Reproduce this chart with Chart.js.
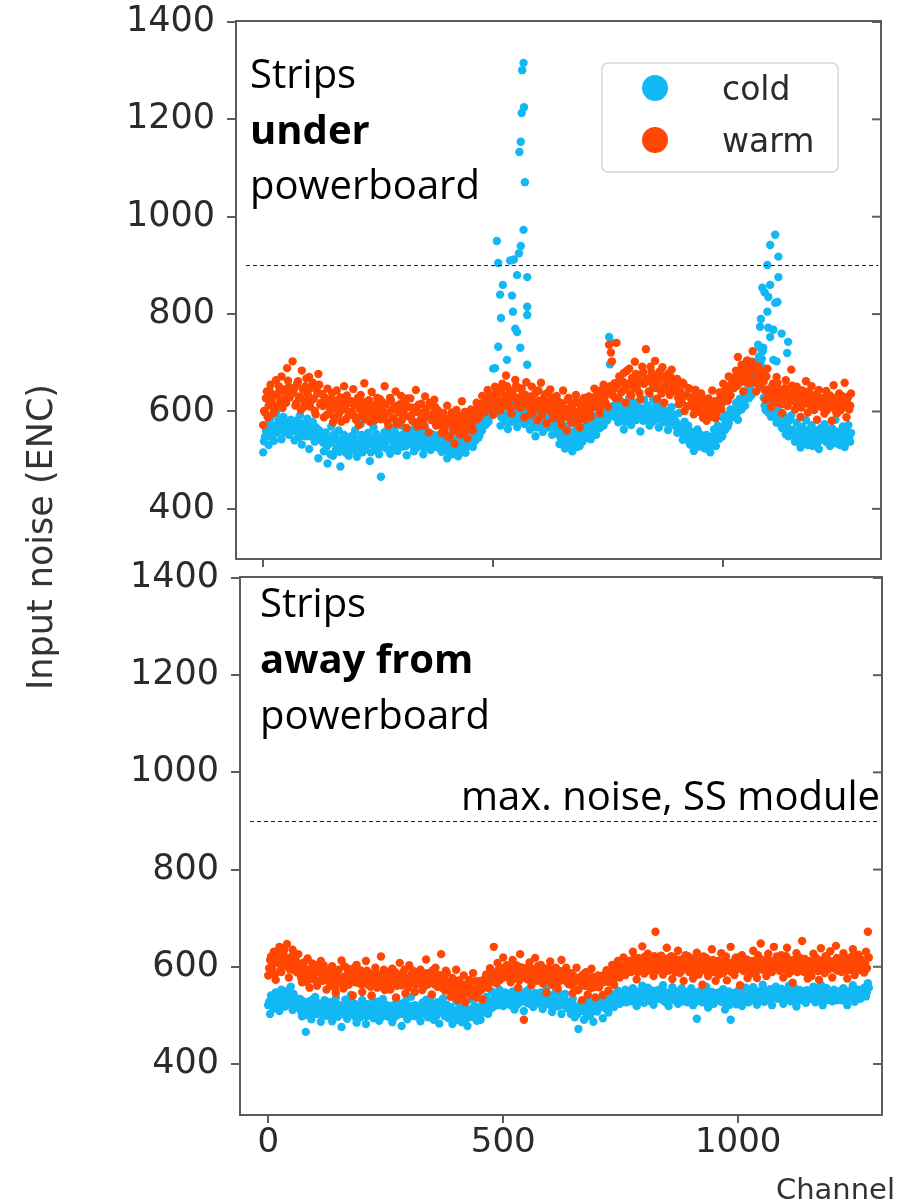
<!DOCTYPE html>
<html>
<head>
<meta charset="utf-8">
<script src="https://cdn.jsdelivr.net/npm/chart.js@4.4.1/dist/chart.umd.min.js"></script>
<style>
  body { margin: 0; background: #fff; }
  #wrap { position: relative; width: 902px; height: 1204px; }
  canvas { position: absolute; left: 0; }
  #top { top: 0; }
  #bottom { top: 560px; }
  #ylabel {
    position: absolute; left: 40px; top: 537px;
    transform: translate(-50%, -50%) rotate(-90deg);
    font: 35px "DejaVu Sans"; color: #333; white-space: nowrap;
  }
</style>
</head>
<body>
<div id="wrap">
  <canvas id="top" width="902" height="575"></canvas>
  <canvas id="bottom" width="902" height="644"></canvas>
  <div id="ylabel">Input noise (ENC)</div>
</div>
<script>
// values read every 4 channels; the "...B" arrays are the channels in between (2, 6, 10, ...)
const channelStep = 4;

// strips under powerboard
const warmUnder = [
  572, 598, 641, 612, 655, 628, 603, 664, 637, 618, 672, 645, 626, 689, 651, 634,
  703, 648, 617, 662, 631, 684, 609, 652, 638, 671, 622, 659, 601, 645, 677, 614,
  636, 588, 619, 647, 597, 625, 578, 611, 643, 594, 629, 603, 652, 584, 617, 599,
  621, 646, 589, 613, 572, 634, 601, 658, 593, 617, 579, 640, 606, 587, 628, 611,
  584, 619, 652, 597, 571, 628, 604, 586, 641, 612, 575, 632, 593, 618, 566, 609,
  627, 581, 605, 644, 569, 598, 616, 576, 631, 592, 557, 613, 588, 624, 571, 602,
  583, 556, 597, 571, 612, 548, 589, 566, 534, 603, 578, 552, 621, 569, 587, 545,
  579, 604, 561, 593, 618, 586, 607, 632, 598, 621, 644, 609, 628, 593, 651, 617,
  638, 602, 657, 621, 674, 611, 643, 596, 632, 665, 619, 648, 607, 637, 588, 660,
  627, 593, 651, 614, 638, 582, 622, 659, 601, 635, 576, 618, 645, 597, 629, 610,
  588, 619, 572, 643, 605, 561, 628, 594, 612, 577, 634, 599, 567, 621, 608, 583,
  603, 631, 589, 624, 647, 612, 638, 596, 629, 655, 618, 642, 737, 721, 633, 658,
  741, 627, 665, 641, 679, 618, 653, 688, 632, 661, 702, 646, 674, 625, 692, 657,
  728, 663, 637, 681, 649, 704, 626, 668, 645, 691, 618, 659, 677, 634, 686, 651,
  642, 667, 615, 638, 659, 601, 633, 648, 612, 629, 594, 644, 618, 603, 637, 587,
  612, 581, 627, 598, 643, 607, 586, 621, 639, 604, 657, 628, 645, 672, 633, 661,
  648, 684, 712, 659, 696, 641, 673, 705, 658, 689, 724, 667, 641, 693, 652, 678,
  661, 624, 688, 646, 609, 657, 632, 671, 618, 643, 597, 629, 664, 611, 648, 686,
  637, 604, 651, 622, 589, 643, 616, 662, 598, 631, 652, 609, 627, 583, 644, 618,
  628, 596, 642, 609, 633, 581, 654, 615, 597, 637, 603, 622, 659, 588, 631, 612
];
const warmUnderB = [
  601, 627, 588, 643, 619, 596, 634, 611, 652, 624, 607, 641, 618, 663, 629, 645,
  639, 612, 657, 628, 603, 646, 621, 668, 633, 610, 649, 626, 594, 637, 655, 618,
  611, 629, 593, 617, 604, 638, 587, 622, 601, 614, 579, 626, 608, 633, 592, 618,
  597, 612, 583, 628, 605, 591, 619, 584, 607, 623, 596, 611, 582, 616, 599, 625,
  603, 588, 614, 579, 597, 622, 586, 609, 574, 598, 615, 583, 604, 591, 627, 589,
  592, 608, 577, 599, 614, 583, 596, 571, 605, 589, 618, 582, 597, 609, 586, 574,
  571, 592, 563, 581, 548, 576, 598, 559, 583, 567, 591, 554, 578, 599, 562, 584,
  591, 572, 598, 583, 606, 591, 615, 603, 612, 629, 604, 633, 611, 624, 639, 606,
  621, 646, 613, 633, 652, 624, 608, 641, 628, 653, 611, 629, 647, 618, 634, 622,
  609, 631, 598, 621, 606, 643, 615, 592, 627, 611, 638, 603, 622, 586, 614, 632,
  603, 584, 616, 597, 589, 624, 607, 578, 601, 619, 592, 583, 611, 596, 628, 614,
  614, 597, 622, 609, 631, 624, 605, 643, 617, 628, 637, 609, 652, 703, 646, 627,
  655, 672, 639, 661, 646, 683, 657, 636, 669, 648, 677, 661, 638, 659, 681, 664,
  668, 641, 692, 657, 673, 648, 661, 682, 637, 672, 654, 666, 642, 671, 659, 645,
  652, 628, 641, 619, 656, 633, 611, 647, 626, 609, 634, 618, 622, 599, 614, 626,
  596, 614, 603, 589, 612, 621, 598, 609, 627, 618, 641, 634, 622, 653, 648, 657,
  671, 653, 682, 668, 677, 662, 691, 679, 668, 702, 686, 659, 676, 662, 683, 667,
  644, 672, 638, 627, 651, 643, 619, 658, 637, 626, 615, 648, 632, 641, 622, 653,
  621, 632, 614, 639, 608, 626, 631, 619, 641, 612, 624, 603, 635, 616, 627, 609,
  611, 624, 603, 619, 612, 628, 606, 597, 621, 614, 632, 609, 618, 626, 604, 637
];
const coldUnder = [
  516, 548, 572, 531, 586, 559, 540, 597, 565, 578, 543, 589, 561, 574, 552, 583,
  568, 541, 579, 556, 592, 532, 571, 549, 585, 523, 562, 578, 538, 566, 504, 553,
  541, 518, 557, 493, 534, 569, 509, 547, 526, 561, 487, 538, 552, 515, 543, 529,
  549, 522, 561, 507, 538, 574, 516, 545, 530, 556, 498, 533, 567, 521, 544, 512,
  466, 539, 558, 524, 547, 513, 565, 532, 551, 519, 542, 571, 528, 556, 510, 548,
  535, 562, 518, 549, 527, 558, 541, 512, 567, 533, 546, 521, 553, 539, 574, 526,
  548, 517, 539, 556, 504, 531, 545, 512, 527, 562, 508, 536, 521, 549, 515, 543,
  538, 561, 527, 553, 574, 546, 582, 561, 597, 573, 608, 589, 621, 688, 604, 643,
  597, 571, 612, 585, 623, 564, 601, 579, 616, 592, 568, 607, 583, 619, 574, 598,
  588, 563, 604, 577, 549, 596, 571, 612, 558, 584, 601, 567, 593, 552, 579, 606,
  561, 533, 578, 549, 524, 566, 542, 583, 518, 556, 537, 572, 529, 551, 567, 545,
  557, 579, 543, 568, 591, 552, 584, 566, 603, 571, 596, 582, 753, 742, 611, 589,
  607, 578, 622, 594, 563, 611, 586, 629, 572, 601, 618, 583, 609, 559, 596, 624,
  589, 612, 571, 598, 624, 583, 606, 567, 593, 617, 578, 601, 562, 587, 609, 574,
  581, 556, 597, 568, 542, 579, 553, 571, 532, 558, 519, 547, 563, 528, 551, 537,
  524, 552, 536, 516, 548, 563, 529, 571, 544, 558, 587, 562, 593, 576, 604, 588,
  597, 618, 583, 626, 604, 641, 612, 658, 627, 643, 689, 661, 702, 674, 731, 708,
  628, 603, 644, 617, 589, 632, 606, 577, 619, 594, 566, 587, 553, 578, 561, 592,
  563, 538, 577, 549, 526, 568, 543, 582, 531, 557, 572, 535, 561, 548, 523, 566,
  552, 574, 537, 561, 529, 566, 546, 583, 534, 558, 541, 569, 527, 553, 572, 538
];
const coldUnderB = [
  539, 561, 552, 576, 548, 567, 571, 556, 582, 563, 570, 558, 575, 566, 580, 571,
  573, 559, 582, 547, 568, 575, 553, 564, 571, 549, 576, 558, 567, 543, 561, 552,
  536, 549, 528, 545, 512, 539, 553, 521, 542, 517, 535, 548, 526, 541, 509, 537,
  532, 546, 519, 541, 528, 552, 534, 523, 548, 537, 516, 543, 531, 554, 527, 539,
  528, 549, 537, 556, 521, 544, 538, 559, 526, 548, 535, 552, 541, 529, 547, 534,
  547, 529, 554, 538, 561, 532, 548, 526, 543, 555, 531, 549, 537, 528, 551, 544,
  532, 541, 524, 548, 519, 537, 528, 543, 515, 539, 526, 547, 533, 518, 541, 529,
  544, 532, 556, 541, 562, 551, 568, 577, 572, 586, 579, 597, 603, 612, 629, 618,
  603, 588, 594, 611, 579, 596, 608, 587, 599, 584, 602, 591, 606, 593, 581, 604,
  581, 597, 572, 589, 567, 584, 593, 575, 588, 571, 596, 582, 578, 569, 591, 583,
  553, 547, 562, 538, 555, 571, 531, 549, 543, 561, 527, 548, 556, 538, 552, 559,
  569, 551, 573, 562, 579, 568, 589, 576, 592, 584, 601, 589, 697, 605, 594, 612,
  592, 604, 587, 612, 579, 597, 603, 588, 615, 592, 583, 601, 589, 606, 581, 598,
  597, 586, 604, 579, 592, 611, 588, 597, 579, 603, 591, 586, 578, 597, 583, 593,
  568, 574, 559, 563, 551, 566, 542, 557, 546, 537, 551, 529, 541, 553, 538, 532,
  541, 533, 526, 547, 539, 531, 552, 546, 558, 549, 571, 578, 569, 587, 591, 599,
  606, 597, 613, 621, 609, 632, 627, 639, 651, 634, 668, 679, 687, 713, 695, 724,
  612, 621, 598, 637, 609, 598, 588, 603, 579, 571, 594, 562, 571, 549, 583, 558,
  552, 557, 539, 561, 547, 533, 556, 548, 562, 541, 529, 553, 546, 537, 558, 544,
  561, 546, 553, 541, 557, 548, 535, 559, 546, 531, 552, 543, 561, 538, 547, 556
];
// extra cold points in the two noisy regions
const coldSpikeChannels = [
  566, 563, 567, 562, 560, 557, 569, 566, 511, 537, 552, 574, 515, 541, 543,
  574, 574, 517, 552, 559, 511, 530, 504, 574, 560, 556, 521, 548, 508, 545,
  1113, 1102, 1120, 1096, 1120, 1085, 1102, 1098, 1113, 1118, 1096, 1080,
  1098, 1109, 1102, 1076, 1087, 1141, 1139, 1109, 1116, 1090, 1082, 1127
];
const coldSpikeValues = [
  1316, 1301, 1225, 1213, 1154, 1133, 1071, 973, 905, 910, 880, 876, 840, 838, 805,
  815, 798, 792, 763, 731, 733, 706, 689, 696, 940, 925, 860, 770, 950, 912,
  963, 942, 918, 901, 876, 854, 860, 835, 823, 825, 805, 774,
  772, 768, 753, 737, 731, 743, 720, 706, 703, 845, 790, 760
];

// strips away from powerboard
const warmAway = [
  582, 614, 596, 631, 573, 608, 641, 589, 622, 604, 647, 578, 617, 635, 593, 611,
  626, 591, 568, 609, 582, 617, 557, 598, 574, 603, 561, 589, 612, 571, 594, 553,
  584, 562, 601, 573, 546, 592, 568, 613, 555, 581, 597, 564, 589, 541, 576, 604,
  567, 593, 548, 579, 612, 563, 586, 541, 574, 598, 557, 583, 621, 569, 552, 590,
  578, 553, 596, 571, 537, 584, 608, 562, 589, 545, 576, 603, 566, 592, 548, 581,
  571, 594, 552, 579, 615, 564, 587, 543, 572, 598, 559, 583, 626, 568, 551, 588,
  563, 538, 577, 552, 594, 531, 566, 548, 582, 527, 559, 573, 541, 587, 554, 536,
  548, 571, 533, 562, 584, 556, 597, 569, 641, 583, 608, 572, 596, 619, 581, 603,
  592, 568, 614, 579, 603, 557, 626, 588, 491, 597, 574, 609, 562, 585, 618, 571,
  583, 604, 566, 592, 547, 578, 611, 563, 589, 598, 555, 582, 614, 573, 591, 568,
  564, 587, 546, 573, 598, 552, 579, 531, 566, 589, 543, 571, 596, 558, 537, 574,
  558, 581, 542, 569, 593, 551, 576, 604, 563, 587, 612, 578, 596, 619, 583, 607,
  612, 589, 631, 597, 574, 618, 603, 642, 586, 609, 627, 594, 616, 581, 672, 605,
  598, 623, 584, 611, 639, 592, 606, 575, 618, 596, 633, 587, 609, 571, 624, 601,
  589, 612, 576, 601, 629, 584, 607, 563, 594, 618, 581, 605, 636, 589, 571, 612,
  603, 628, 587, 614, 572, 597, 641, 608, 583, 619, 596, 562, 624, 591, 609, 577,
  611, 586, 633, 602, 577, 619, 648, 594, 613, 581, 627, 605, 589, 641, 598, 616,
  592, 624, 578, 607, 639, 586, 613, 567, 601, 628, 594, 618, 653, 589, 608, 576,
  604, 581, 627, 596, 612, 573, 638, 601, 587, 619, 595, 632, 578, 611, 643, 592,
  613, 589, 628, 602, 576, 617, 594, 636, 583, 609, 625, 597, 614, 588, 631, 672
];
const warmAwayB = [
  597, 621, 606, 584, 615, 628, 593, 609, 634, 602, 618, 595, 611, 627, 604, 588,
  592, 578, 601, 586, 569, 594, 582, 607, 575, 589, 598, 571, 584, 603, 579, 591,
  571, 589, 576, 557, 582, 594, 567, 578, 601, 574, 563, 586, 579, 597, 568, 582,
  578, 564, 583, 571, 592, 575, 559, 581, 568, 587, 573, 561, 579, 594, 566, 575,
  567, 582, 573, 589, 561, 576, 583, 568, 594, 572, 557, 579, 586, 571, 563, 588,
  583, 566, 574, 561, 587, 576, 569, 593, 564, 578, 582, 571, 557, 576, 592, 569,
  557, 549, 566, 543, 561, 572, 551, 539, 563, 556, 547, 568, 552, 544, 571, 558,
  561, 553, 568, 577, 559, 582, 571, 588, 579, 566, 594, 583, 577, 598, 589, 579,
  583, 597, 576, 591, 584, 572, 599, 581, 593, 576, 588, 597, 579, 594, 584, 601,
  578, 591, 584, 572, 597, 579, 586, 594, 574, 583, 569, 591, 586, 577, 598, 582,
  576, 563, 581, 569, 552, 574, 567, 584, 561, 577, 569, 556, 579, 571, 563, 582,
  571, 567, 579, 586, 574, 568, 592, 583, 577, 596, 588, 601, 591, 584, 606, 597,
  601, 594, 617, 606, 589, 611, 597, 603, 621, 592, 604, 613, 597, 622, 606, 593,
  612, 597, 604, 591, 617, 606, 622, 598, 589, 609, 601, 615, 594, 607, 598, 621,
  603, 594, 617, 589, 598, 612, 596, 621, 607, 588, 602, 593, 614, 604, 596, 583,
  611, 596, 604, 621, 593, 608, 589, 602, 617, 598, 606, 621, 594, 603, 615, 598,
  597, 612, 604, 589, 624, 607, 596, 611, 602, 617, 594, 612, 606, 598, 621, 607,
  603, 611, 596, 622, 598, 607, 592, 614, 605, 589, 611, 603, 598, 616, 592, 605,
  612, 597, 606, 618, 591, 604, 613, 596, 622, 607, 599, 611, 604, 596, 618, 607,
  598, 614, 603, 592, 611, 605, 621, 602, 596, 618, 604, 593, 613, 607, 597, 619
];
const coldAway = [
  521, 503, 538, 514, 547, 529, 509, 553, 532, 518, 544, 526, 559, 511, 537, 524,
  516, 534, 498, 521, 466, 507, 529, 492, 518, 538, 503, 524, 487, 512, 531, 499,
  509, 527, 488, 514, 536, 497, 521, 476, 506, 532, 493, 517, 542, 501, 524, 485,
  518, 496, 531, 507, 482, 523, 512, 539, 494, 515, 528, 489, 511, 534, 503, 521,
  497, 519, 486, 512, 535, 501, 524, 478, 508, 529, 492, 516, 538, 499, 521, 507,
  513, 488, 526, 504, 532, 496, 518, 541, 491, 514, 527, 483, 509, 535, 498, 522,
  494, 517, 482, 508, 529, 491, 513, 486, 521, 502, 478, 511, 533, 496, 519, 489,
  506, 491, 524, 512, 538, 503, 527, 549, 518, 541, 529, 553, 536, 519, 547, 531,
  538, 521, 549, 512, 534, 556, 527, 543, 509, 538, 552, 524, 541, 517, 546, 533,
  529, 547, 513, 536, 558, 524, 541, 507, 532, 549, 518, 537, 503, 526, 544, 515,
  521, 503, 534, 496, 518, 472, 512, 529, 491, 514, 536, 498, 519, 487, 524, 508,
  516, 531, 494, 522, 538, 506, 527, 543, 517, 536, 551, 524, 542, 529, 553, 538,
  547, 529, 556, 538, 519, 549, 533, 561, 526, 544, 557, 535, 551, 522, 546, 539,
  553, 536, 562, 528, 547, 519, 544, 558, 531, 549, 524, 541, 556, 533, 548, 527,
  538, 556, 521, 547, 493, 533, 551, 527, 542, 559, 516, 539, 548, 524, 545, 531,
  541, 528, 554, 512, 537, 549, 491, 532, 546, 523, 551, 538, 519, 544, 557, 529,
  546, 531, 558, 537, 522, 549, 539, 563, 528, 547, 536, 554, 521, 543, 559, 534,
  539, 555, 524, 548, 536, 561, 529, 544, 557, 518, 541, 552, 533, 549, 526, 546,
  551, 534, 559, 527, 546, 538, 563, 521, 544, 556, 532, 548, 529, 553, 541, 536,
  544, 531, 556, 538, 521, 549, 537, 562, 528, 546, 553, 534, 541, 557, 539, 566
];
const coldAwayB = [
  528, 541, 517, 532, 523, 546, 531, 519, 538, 527, 551, 533, 522, 544, 529, 518,
  523, 508, 529, 514, 501, 521, 516, 532, 507, 519, 525, 511, 503, 524, 517, 509,
  512, 497, 519, 506, 524, 511, 502, 515, 521, 498, 513, 506, 527, 509, 496, 516,
  507, 521, 502, 514, 498, 518, 506, 524, 511, 503, 519, 507, 497, 516, 522, 504,
  514, 503, 521, 497, 509, 518, 503, 514, 522, 498, 511, 519, 506, 514, 498, 517,
  501, 517, 509, 521, 503, 511, 526, 507, 514, 499, 518, 508, 521, 503, 512, 506,
  506, 498, 511, 494, 503, 514, 497, 508, 501, 493, 512, 499, 506, 518, 495, 503,
  498, 512, 506, 521, 517, 529, 514, 532, 526, 537, 521, 541, 528, 534, 524, 539,
  527, 536, 531, 544, 522, 529, 538, 531, 547, 526, 533, 541, 528, 537, 524, 539,
  537, 522, 531, 542, 527, 535, 519, 531, 538, 524, 529, 543, 521, 534, 528, 522,
  512, 524, 507, 516, 503, 519, 526, 509, 521, 503, 517, 524, 508, 516, 511, 521,
  524, 519, 529, 514, 531, 523, 536, 529, 541, 526, 534, 545, 533, 538, 527, 544,
  538, 546, 532, 543, 537, 528, 545, 539, 534, 549, 541, 529, 544, 537, 551, 534,
  541, 532, 547, 538, 531, 544, 536, 549, 541, 533, 546, 538, 529, 543, 537, 545,
  546, 532, 539, 528, 541, 547, 536, 531, 548, 533, 527, 544, 536, 541, 532, 547,
  533, 544, 527, 541, 536, 522, 543, 538, 531, 546, 529, 541, 547, 535, 538, 527,
  539, 548, 536, 543, 531, 546, 538, 529, 551, 539, 544, 532, 547, 538, 536, 549,
  547, 536, 541, 532, 549, 538, 543, 537, 526, 545, 538, 531, 546, 541, 552, 537,
  541, 548, 533, 539, 552, 541, 529, 546, 538, 533, 547, 541, 536, 544, 531, 549,
  538, 552, 544, 531, 547, 539, 553, 541, 536, 549, 545, 537, 552, 543, 548, 557
];

const yTickValues = [400, 600, 800, 1000, 1200, 1400];
const xTickValues = [0, 500, 1000];
const maxNoise = 900;

const coldColor = '#12b8f3';
const warmColor = '#ff4703';
const axisColor = '#5c5c5c';
const textColor = '#2b2b2b';

Chart.defaults.font.family = 'DejaVu Sans';

function toPoints(values, offset) {
  return values.map((v, i) => ({ x: i * channelStep + offset, y: v }));
}
function pairs(chs, vals) {
  return chs.map((c, i) => ({ x: c, y: vals[i] }));
}

function line(ctx, x1, y1, x2, y2) {
  ctx.beginPath();
  ctx.moveTo(x1, y1);
  ctx.lineTo(x2, y2);
  ctx.stroke();
}

const decorPlugin = {
  id: 'decor',
  afterDatasetsDraw(chart, args, opts) {
    const { ctx, chartArea: a, scales: { y } } = chart;
    ctx.save();
    // frame + inward ticks on the right
    ctx.strokeStyle = axisColor;
    ctx.lineWidth = 2;
    ctx.strokeRect(a.left, a.top, a.right - a.left, a.bottom - a.top);
    yTickValues.forEach(v => {
      const py = y.getPixelForValue(v);
      line(ctx, a.right - 9, py, a.right, py);
    });
    // max noise line
    ctx.strokeStyle = '#222';
    ctx.lineWidth = 1.2;
    ctx.setLineDash([4, 3]);
    const py = Math.round(y.getPixelForValue(maxNoise)) + 0.5;
    line(ctx, a.left + 10, py, a.right - 3, py);
    ctx.setLineDash([]);

    // annotation text
    ctx.fillStyle = '#000';
    ctx.textBaseline = 'alphabetic';
    opts.texts.forEach(t => {
      ctx.font = (t.bold ? 'bold ' : '') + '40px "Open Sans"';
      ctx.textAlign = t.align || 'left';
      ctx.fillText(t.text, t.x, t.y - opts.offsetY);
    });

    if (opts.legend) {
      ctx.fillStyle = 'rgba(255,255,255,0.85)';
      ctx.strokeStyle = '#d6d6d6';
      ctx.lineWidth = 1.5;
      ctx.beginPath();
      ctx.roundRect(602, 63, 236, 109, 6);
      ctx.fill();
      ctx.stroke();
      [['cold', coldColor, 88], ['warm', warmColor, 140]].forEach(([label, color, cy]) => {
        ctx.fillStyle = color;
        ctx.beginPath();
        ctx.arc(655, cy, 13, 0, Math.PI * 2);
        ctx.fill();
        ctx.fillStyle = textColor;
        ctx.font = '33px "DejaVu Sans"';
        ctx.textAlign = 'left';
        ctx.fillText(label, 722, cy + 12);
      });
    }

    if (opts.xLabel) {
      ctx.fillStyle = '#333';
      ctx.font = '29px "DejaVu Sans"';
      ctx.textAlign = 'right';
      ctx.fillText('Channel', 895, 1199 - opts.offsetY);
    }
    ctx.restore();
  }
};

function makeChart(id, cfg) {
  return new Chart(document.getElementById(id), {
    type: 'scatter',
    data: {
      datasets: [
        { label: 'warm', data: cfg.warm, backgroundColor: warmColor, pointRadius: 4.2, borderWidth: 0 },
        { label: 'cold', data: cfg.cold, backgroundColor: coldColor, pointRadius: 4.2, borderWidth: 0 }
      ]
    },
    options: {
      responsive: false,
      animation: false,
      events: [],
      layout: { padding: cfg.padding },
      plugins: {
        legend: { display: false },
        tooltip: { enabled: false },
        decor: cfg.decor
      },
      scales: {
        x: {
          type: 'linear',
          min: cfg.xMin,
          max: cfg.xMax,
          afterBuildTicks: s => { s.ticks = xTickValues.map(v => ({ value: v })); },
          afterFit: s => { s.height = cfg.xHeight; s.paddingLeft = 0; s.paddingRight = 0; },
          grid: { drawOnChartArea: false, drawTicks: true, tickLength: 8, color: axisColor, lineWidth: 2 },
          border: { display: false },
          ticks: { display: cfg.xLabels, font: { size: 34 }, color: textColor, padding: 0, maxRotation: 0, callback: v => String(v) }
        },
        y: {
          min: cfg.yMin,
          max: cfg.yMax,
          afterBuildTicks: s => { s.ticks = yTickValues.map(v => ({ value: v })); },
          afterFit: s => { s.width = cfg.yWidth; s.paddingTop = 0; s.paddingBottom = 0; },
          grid: { drawOnChartArea: false, drawTicks: true, tickLength: 9, color: axisColor, lineWidth: 2 },
          border: { display: false },
          ticks: { font: { size: 35 }, color: textColor, padding: 12, callback: v => String(v) }
        }
      }
    },
    plugins: [decorPlugin]
  });
}

makeChart('top', {
  warm: toPoints(warmUnder, 0).concat(toPoints(warmUnderB, 2)),
  cold: toPoints(coldUnder, 0).concat(toPoints(coldUnderB, 2), pairs(coldSpikeChannels, coldSpikeValues)),
  xMin: -59, xMax: 1343, yMin: 297, yMax: 1402,
  padding: { top: 21, right: 21, left: 0, bottom: 0 },
  yWidth: 236, xHeight: 16, xLabels: false,
  decor: {
    offsetY: 0, legend: true,
    texts: [
      { text: 'Strips', x: 250, y: 88 },
      { text: 'under', x: 250, y: 144, bold: true },
      { text: 'powerboard', x: 250, y: 199 }
    ]
  }
});

makeChart('bottom', {
  warm: toPoints(warmAway, 0).concat(toPoints(warmAwayB, 2)),
  cold: toPoints(coldAway, 0).concat(toPoints(coldAwayB, 2)),
  xMin: -60, xMax: 1306, yMin: 295, yMax: 1402,
  padding: { top: 17, right: 20, left: 0, bottom: 0 },
  yWidth: 240, xHeight: 89, xLabels: true,
  decor: {
    offsetY: 560, xLabel: true,
    texts: [
      { text: 'Strips', x: 260, y: 617 },
      { text: 'away from', x: 260, y: 673, bold: true },
      { text: 'powerboard', x: 260, y: 729 },
      { text: 'max. noise, SS module', x: 880, y: 810, align: 'right' }
    ]
  }
});
</script>
</body>
</html>
